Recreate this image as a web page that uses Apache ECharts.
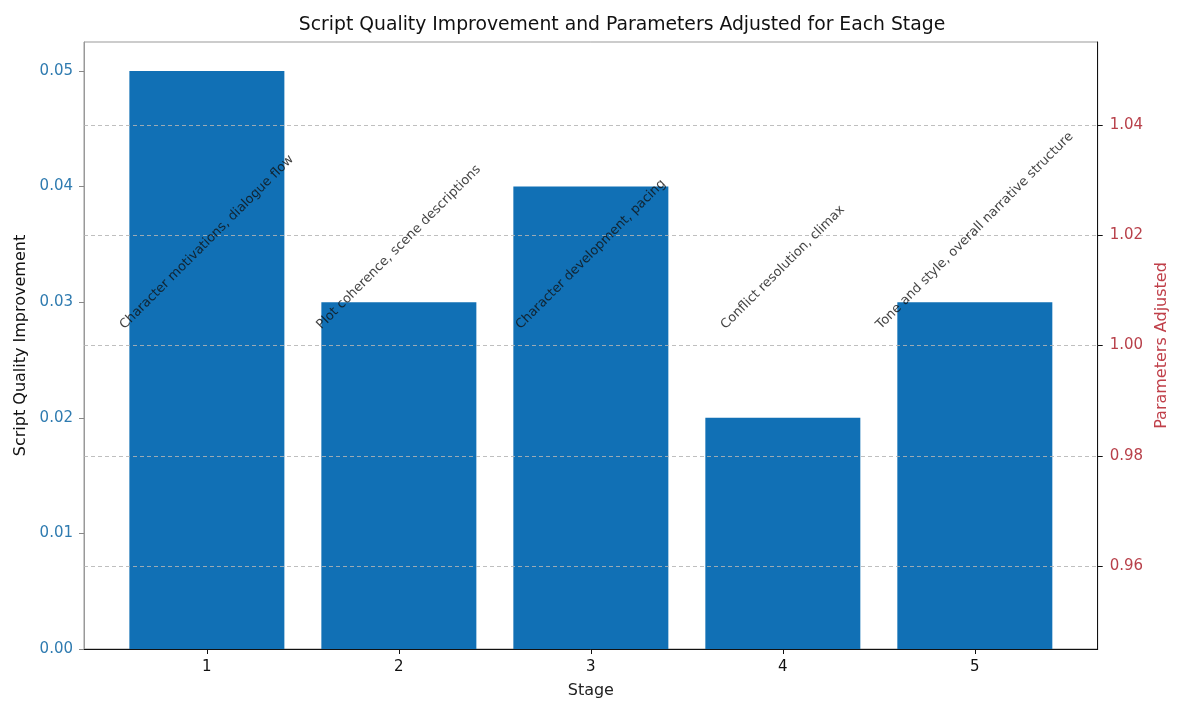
<!DOCTYPE html>
<html>
<head>
<meta charset="utf-8">
<script src="https://cdn.jsdelivr.net/npm/echarts@6/dist/echarts.min.js"></script>
<style>
  html, body { margin: 0; padding: 0; background: #fff; overflow: hidden; }
  #chart { position: absolute; left: 0; top: 0; width: 1178px; height: 704px; }
</style>
</head>
<body>
<div id="chart"></div>
<script>
// data
var stages = [1, 2, 3, 4, 5];
var qualityImprovement = [0.05, 0.03, 0.04, 0.02, 0.03];
var parametersAdjusted = [1, 1, 1, 1, 1];
var stageNotes = [
    'Character motivations, dialogue flow',
    'Plot coherence, scene descriptions',
    'Character development, pacing',
    'Conflict resolution, climax',
    'Tone and style, overall narrative structure'
];
var leftTicks = [0, 0.01, 0.02, 0.03, 0.04, 0.05];
var rightTicks = [0.96, 0.98, 1.00, 1.02, 1.04];

var FONT = 'DejaVu Sans';
var noteSize = 13;

// measure note text so the rotated label box sits centred over its bar
var ctx = document.createElement('canvas').getContext('2d');
ctx.font = noteSize + 'px "' + FONT + '"';

function noteOffset(text) {
    var w = ctx.measureText(text).width;
    var boxH = (w + noteSize + 2) * Math.SQRT1_2;
    var d = 13 + boxH / 2;
    // label offset is applied in the rotated frame, so turn the straight-up shift back by 45deg
    return [d * Math.SQRT1_2, -d * Math.SQRT1_2];
}

var barData = stages.map(function (s, i) {
    return [s, qualityImprovement[i]];
});

var noteData = stages.map(function (s, i) {
    return {
        value: [s, parametersAdjusted[i]],
        name: stageNotes[i],
        label: { offset: noteOffset(stageNotes[i]) }
    };
});

var myChart = echarts.init(document.getElementById('chart'));

var option = {
    animation: false,
    title: {
        text: 'Script Quality Improvement and Parameters Adjusted for Each Stage',
        left: 617,
        top: 11,
        textAlign: 'center',
        textStyle: { fontFamily: FONT, fontSize: 18.8, fontWeight: 'normal', color: '#111' }
    },
    grid: {
        left: 84, right: 67, top: 42, bottom: 52,
        show: true, borderColor: '#999', borderWidth: 1
    },
    xAxis: {
        type: 'value',
        min: 0.36,
        max: 5.64,
        name: 'Stage',
        nameLocation: 'middle',
        nameGap: 34,
        nameTextStyle: { fontFamily: FONT, fontSize: 16, color: '#222' },
        axisLine: { lineStyle: { color: '#111' } },
        axisTick: { customValues: stages, length: 5, lineStyle: { color: '#111' } },
        axisLabel: { customValues: stages, fontFamily: FONT, fontSize: 15, color: '#111', margin: 11 },
        splitLine: { show: false }
    },
    yAxis: [{
        type: 'value',
        min: 0,
        max: 0.0525,
        position: 'left',
        name: 'Script Quality Improvement',
        nameLocation: 'middle',
        nameGap: 55,
        nameTextStyle: { fontFamily: FONT, fontSize: 16, color: '#111' },
        axisLine: { show: true, lineStyle: { color: '#999' } },
        axisTick: { show: true, customValues: leftTicks, length: 5, lineStyle: { color: '#888' } },
        axisLabel: {
            customValues: leftTicks, fontFamily: FONT, fontSize: 15, color: '#2f7bb0', margin: 11,
            formatter: function (v) { return v.toFixed(2); }
        },
        splitLine: { show: false }
    }, {
        type: 'value',
        min: 0.945,
        max: 1.055,
        position: 'right',
        z: 3,
        name: 'Parameters Adjusted',
        nameLocation: 'middle',
        nameGap: 50,
        nameTextStyle: { fontFamily: FONT, fontSize: 16, color: '#c0404a' },
        axisLine: { show: true, lineStyle: { color: '#111' } },
        axisTick: { show: true, customValues: rightTicks, length: 5, lineStyle: { color: '#111' } },
        axisLabel: {
            customValues: rightTicks, fontFamily: FONT, fontSize: 15, color: '#b8404a', margin: 12,
            formatter: function (v) { return v.toFixed(2); }
        },
        splitLine: { show: true, lineStyle: { type: [4, 3], color: 'rgba(180,180,180,0.85)', width: 1 } }
    }],
    series: [{
        type: 'bar',
        yAxisIndex: 0,
        data: barData,
        barWidth: 155,
        itemStyle: { color: '#1170b5' }
    }, {
        type: 'scatter',
        yAxisIndex: 1,
        z: 5,
        data: noteData,
        symbolSize: 1,
        itemStyle: { color: 'transparent' },
        silent: true,
        label: {
            show: true,
            position: 'inside',
            rotate: 45,
            align: 'center',
            verticalAlign: 'middle',
            fontFamily: FONT,
            fontSize: noteSize,
            color: '#111',
            formatter: '{b}'
        }
    }]
};

myChart.setOption(option);
</script>
</body>
</html>
